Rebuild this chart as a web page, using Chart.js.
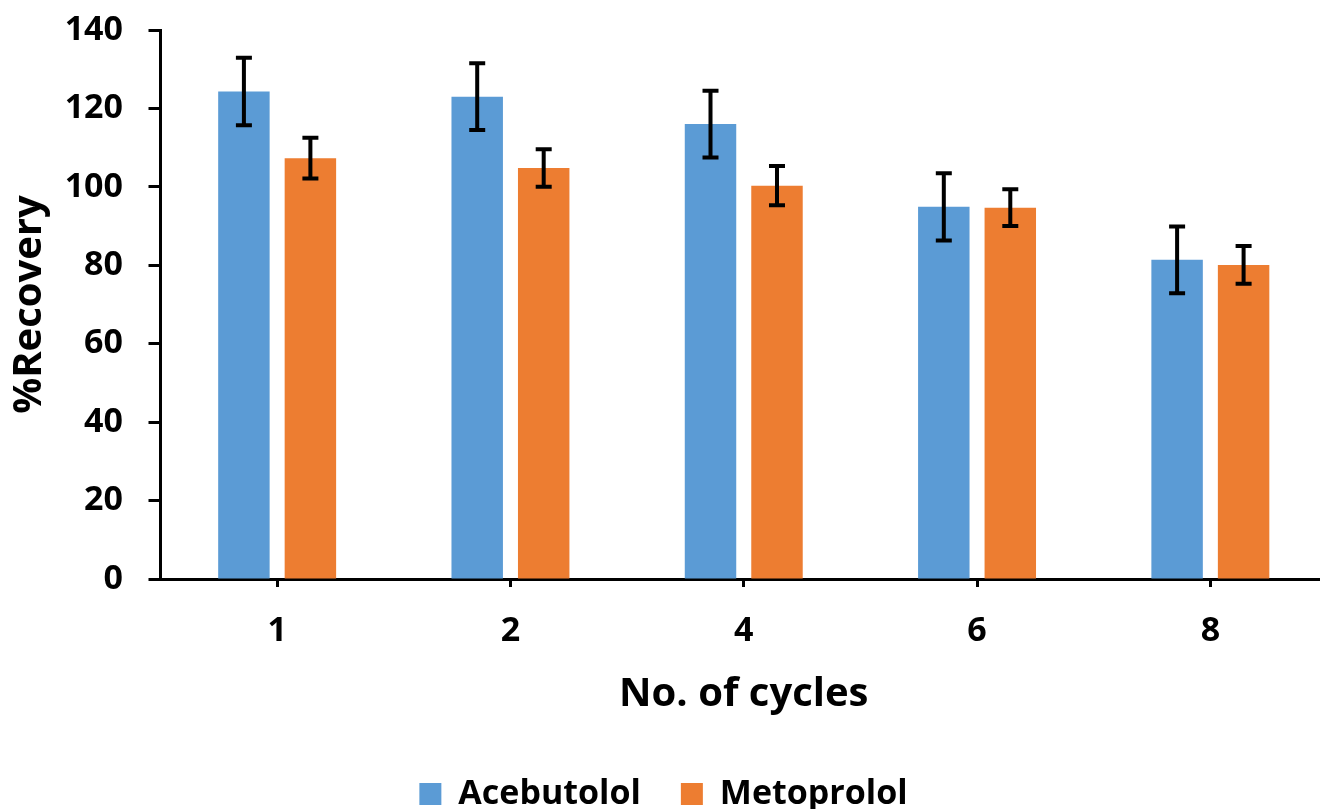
<!DOCTYPE html>
<html>
<head>
<meta charset="utf-8">
<script src="https://cdn.jsdelivr.net/npm/chart.js@4.4.1/dist/chart.umd.min.js"></script>
<style>
  html, body { margin: 0; padding: 0; background: #ffffff; overflow: hidden; }
  #wrap { position: absolute; left: 0; top: 0; width: 1320px; height: 809px; overflow: hidden; }
  canvas { display: block; }
</style>
</head>
<body>
<div id="wrap"><canvas id="chart" width="1327" height="821"></canvas></div>
<script>
// Recovery over repeated extraction cycles
const cycles = ['1', '2', '4', '6', '8'];
const acebutolol = [124.3, 123.0, 116.0, 94.9, 81.4];
const acebutololErr = [8.6, 8.5, 8.5, 8.6, 8.5];
const metoprolol = [107.3, 104.8, 100.3, 94.7, 80.1];
const metoprololErr = [5.2, 4.8, 5.0, 4.7, 4.8];
const yTicks = [0, 20, 40, 60, 80, 100, 120, 140];

const FONT = '"Open Sans", Lato, "DejaVu Sans", sans-serif';
const PLOT_LEFT = 160.5;   // x of the value axis
const PLOT_BOTTOM = 579;   // y of the category axis

// Draws symmetric error bars on top of each bar, using the value scale
const errorBars = {
  id: 'errorBars',
  afterDatasetsDraw(chart) {
    const ctx = chart.ctx;
    const y = chart.scales.y;
    chart.data.datasets.forEach((ds, di) => {
      const meta = chart.getDatasetMeta(di);
      meta.data.forEach((bar, i) => {
        const v = ds.data[i];
        const e = ds.errors[i];
        const yTop = y.getPixelForValue(v + e);
        const yBot = y.getPixelForValue(v - e);
        const half = 8;
        ctx.save();
        ctx.strokeStyle = '#000000';
        ctx.lineWidth = 4;
        ctx.lineCap = 'butt';
        ctx.beginPath();
        ctx.moveTo(bar.x, yTop);
        ctx.lineTo(bar.x, yBot);
        ctx.moveTo(bar.x - half, yTop);
        ctx.lineTo(bar.x + half, yTop);
        ctx.moveTo(bar.x - half, yBot);
        ctx.lineTo(bar.x + half, yBot);
        ctx.stroke();
        ctx.restore();
      });
    });
  }
};

new Chart(document.getElementById('chart'), {
  type: 'bar',
  data: {
    labels: cycles,
    datasets: [
      {
        label: 'Acebutolol',
        data: acebutolol,
        errors: acebutololErr,
        backgroundColor: '#5B9BD5',
        categoryPercentage: 0.57,
        barPercentage: 0.774
      },
      {
        label: 'Metoprolol',
        data: metoprolol,
        errors: metoprololErr,
        backgroundColor: '#ED7D31',
        categoryPercentage: 0.57,
        barPercentage: 0.774
      }
    ]
  },
  options: {
    responsive: false,
    animation: false,
    devicePixelRatio: 1,
    layout: { padding: { top: 30, left: 0, right: 0, bottom: 0 } },
    plugins: {
      tooltip: { enabled: false },
      legend: {
        position: 'bottom',
        labels: {
          color: '#000000',
          font: { family: FONT, size: 34, weight: 'bold' },
          boxWidth: 22,
          boxHeight: 22,
          padding: 40,
          useBorderRadius: false
        }
      }
    },
    scales: {
      x: {
        afterFit(scale) {
          const legendH = scale.chart.legend ? scale.chart.legend.height : 0;
          scale.height = scale.chart.height - PLOT_BOTTOM - legendH;
          scale.paddingLeft = 0;
          scale.paddingRight = 0;
        },
        grid: {
          display: true,
          drawOnChartArea: false,
          drawTicks: true,
          offset: false,
          tickLength: 8,
          tickWidth: 3,
          tickColor: '#000000'
        },
        border: { display: true, color: '#000000', width: 3 },
        ticks: {
          color: '#000000',
          padding: 24,
          font: { family: FONT, size: 34, weight: 'bold' }
        },
        title: {
          display: true,
          text: 'No. of cycles',
          color: '#000000',
          padding: { top: 10, bottom: 18 },
          font: { family: FONT, size: 40, weight: 'bold' }
        }
      },
      y: {
        min: 0,
        max: 140,
        afterBuildTicks(scale) {
          scale.ticks = yTicks.map(v => ({ value: v }));
        },
        afterFit(scale) {
          scale.width = PLOT_LEFT;
          scale.paddingTop = 0;
          scale.paddingBottom = 0;
        },
        grid: {
          display: true,
          drawOnChartArea: false,
          drawTicks: true,
          tickLength: 12,
          tickWidth: 3,
          tickColor: '#000000'
        },
        border: { display: true, color: '#000000', width: 3 },
        ticks: {
          color: '#000000',
          padding: 25.5,
          font: { family: FONT, size: 34, weight: 'bold' }
        },
        title: {
          display: true,
          text: '%Recovery',
          color: '#000000',
          padding: { top: 6, bottom: 0 },
          font: { family: FONT, size: 40, weight: 'bold' }
        }
      }
    }
  },
  plugins: [errorBars]
});
</script>
</body>
</html>
